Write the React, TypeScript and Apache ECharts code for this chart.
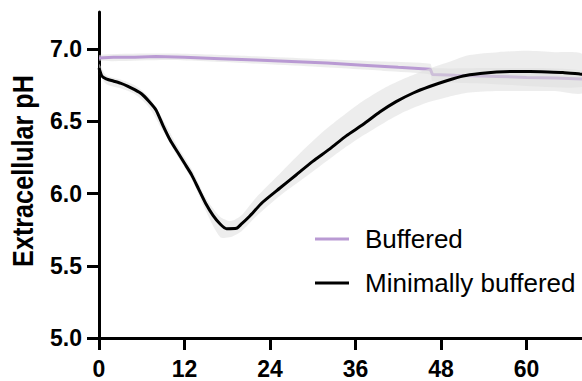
import React, { useEffect, useRef } from "react";
import * as echarts from "echarts";

// Axis ticks
const xTicks = [0, 12, 24, 36, 48, 60];
const yTicks = [5.0, 5.5, 6.0, 6.5, 7.0];

// Buffered medium: mean extracellular pH over time
const bufferedTime = [0, 2, 5, 8, 12, 17, 22, 27, 32, 37, 42, 46.5, 46.8, 50, 55.8, 60, 64, 68];
const bufferedPH = [6.94, 6.945, 6.945, 6.95, 6.945, 6.935, 6.925, 6.915, 6.905, 6.89, 6.875, 6.862, 6.825, 6.82, 6.812, 6.805, 6.8, 6.794];

// Buffered medium: spread band
const bufferedBandTime = [0, 10, 20, 30, 40, 46.5, 46.8, 55, 68];
const bufferedBandLow = [6.92, 6.925, 6.905, 6.88, 6.85, 6.825, 6.78, 6.76, 6.74];
const bufferedBandHigh = [6.96, 6.97, 6.955, 6.935, 6.915, 6.9, 6.87, 6.87, 6.85];

// Minimally buffered medium: mean extracellular pH over time
const minimalTime = [0, 0.4, 1, 2, 3, 4, 5, 6, 7, 8, 9, 10, 11, 12, 13, 14, 15, 16, 17, 17.9, 19.3, 20, 21.1, 23, 25.4, 27.7, 30, 32.4, 34.7, 37.1, 39.4, 41.7, 44.1, 46.4, 48.8, 51.1, 53.5, 55.8, 58, 60.5, 63, 65.1, 67.5, 68];
const minimalPH = [6.87, 6.815, 6.795, 6.78, 6.765, 6.745, 6.72, 6.69, 6.64, 6.58, 6.47, 6.37, 6.29, 6.21, 6.13, 6.03, 5.93, 5.85, 5.79, 5.757, 5.76, 5.79, 5.842, 5.942, 6.039, 6.131, 6.223, 6.31, 6.4, 6.48, 6.565, 6.637, 6.697, 6.742, 6.782, 6.815, 6.832, 6.842, 6.846, 6.846, 6.843, 6.839, 6.828, 6.826];

// Minimally buffered medium: spread band
const minimalBandTime = [0, 1, 3, 5, 7, 9, 11, 13, 15, 17, 18.5, 20, 22, 25, 28, 31, 34, 37, 40, 43, 46, 49, 52, 56, 60, 64, 68];
const minimalBandLow = [6.84, 6.76, 6.73, 6.69, 6.6, 6.43, 6.26, 6.1, 5.88, 5.7, 5.7, 5.74, 5.84, 5.97, 6.08, 6.19, 6.3, 6.4, 6.49, 6.57, 6.63, 6.67, 6.7, 6.71, 6.71, 6.71, 6.7];
const minimalBandHigh = [6.9, 6.82, 6.79, 6.75, 6.67, 6.51, 6.33, 6.17, 5.97, 5.84, 5.81, 5.85, 5.97, 6.12, 6.27, 6.41, 6.53, 6.64, 6.73, 6.8, 6.86, 6.91, 6.96, 6.98, 6.99, 6.98, 6.96];

const X_MAX = 68;
const Y_MIN = 5;
const Y_MAX = 7.258;
const Y_TITLE = "Extracellular pH";

const FONT = '"Liberation Sans", Arial, Helvetica, sans-serif';
const PURPLE = "#b99ad3";
const BAND = "rgba(222,222,222,0.55)";

const pairs = (ts: number[], vs: number[]) => ts.map((t, i) => [t, vs[i]]);

// Shaded band between a low and a high curve, mapped through the grid's axes
function bandSeries(id: string, ts: number[], lo: number[], hi: number[], z: number) {
  return {
    id,
    type: "custom",
    coordinateSystem: "cartesian2d",
    silent: true,
    clip: true,
    z,
    data: [[ts[0], lo[0]]],
    encode: { x: 0, y: 1 },
    renderItem: (_params: any, api: any) => {
      const lower = ts.map((t, i) => api.coord([t, lo[i]]));
      const upper = ts.map((t, i) => api.coord([t, hi[i]])).reverse();
      return {
        type: "polygon",
        shape: { points: lower.concat(upper), smooth: 0.25 },
        style: { fill: BAND, stroke: null },
      };
    },
  };
}

export default function App() {
  const ref = useRef<HTMLDivElement>(null);

  useEffect(() => {
    const chart = echarts.init(ref.current!, null, { renderer: "svg" });
    const option: any = {
      animation: false,
      backgroundColor: "#ffffff",
      grid: { left: 99, top: 12, width: 484.5, height: 326, outerBoundsMode: "none" },
      graphic: [
        {
          type: "text",
          x: 23,
          y: 171,
          rotation: Math.PI / 2,
          scaleX: 0.84,
          style: {
            text: Y_TITLE,
            fontFamily: FONT,
            fontSize: 30,
            fontWeight: "bold",
            fill: "#000",
            textAlign: "center",
            textVerticalAlign: "middle",
          },
        },
      ],
      legend: {
        left: 310,
        top: 220,
        orient: "vertical",
        itemWidth: 34,
        itemHeight: 3,
        itemGap: 16,
        textStyle: {
          fontFamily: FONT,
          fontSize: 26,
          color: "#000",
          lineHeight: 28,
          padding: [0, 0, 0, 11],
        },
        data: [
          { name: "Buffered", icon: "rect" },
          { name: "Minimally buffered", icon: "rect" },
        ],
      },
      xAxis: {
        type: "value",
        min: 0,
        max: X_MAX,
        axisLine: { onZero: false, lineStyle: { color: "#000", width: 3 } },
        axisTick: { show: true, length: 12, lineStyle: { color: "#000", width: 3 }, customValues: xTicks },
        axisLabel: {
          customValues: xTicks,
          margin: 22,
          lineHeight: 18,
          fontFamily: FONT,
          fontSize: 23,
          fontWeight: "bold",
          color: "#000",
        },
        splitLine: { show: false },
      },
      yAxis: {
        type: "value",
        min: Y_MIN,
        max: Y_MAX,
        axisLine: { onZero: false, lineStyle: { color: "#000", width: 3 } },
        axisTick: { show: true, length: 12, lineStyle: { color: "#000", width: 3 }, customValues: yTicks },
        axisLabel: {
          customValues: yTicks,
          margin: 17,
          fontFamily: FONT,
          fontSize: 23,
          fontWeight: "bold",
          color: "#000",
          formatter: (v: number) => v.toFixed(1),
        },
        splitLine: { show: false },
      },
      series: [
        bandSeries("bufferedBand", bufferedBandTime, bufferedBandLow, bufferedBandHigh, 1),
        {
          name: "Buffered",
          type: "line",
          data: pairs(bufferedTime, bufferedPH),
          symbol: "none",
          lineStyle: { color: PURPLE, width: 3 },
          itemStyle: { color: PURPLE },
          z: 2,
        },
        bandSeries("minimalBand", minimalBandTime, minimalBandLow, minimalBandHigh, 3),
        {
          name: "Minimally buffered",
          type: "line",
          data: pairs(minimalTime, minimalPH),
          symbol: "none",
          smooth: 0.2,
          lineStyle: { color: "#000", width: 3 },
          itemStyle: { color: "#000" },
          z: 4,
        },
      ],
    };
    chart.setOption(option);
    return () => chart.dispose();
  }, []);

  return (
    <div
      ref={ref}
      style={{ position: "fixed", left: 0, top: 0, width: 582, height: 381, background: "#fff" }}
    />
  );
}
